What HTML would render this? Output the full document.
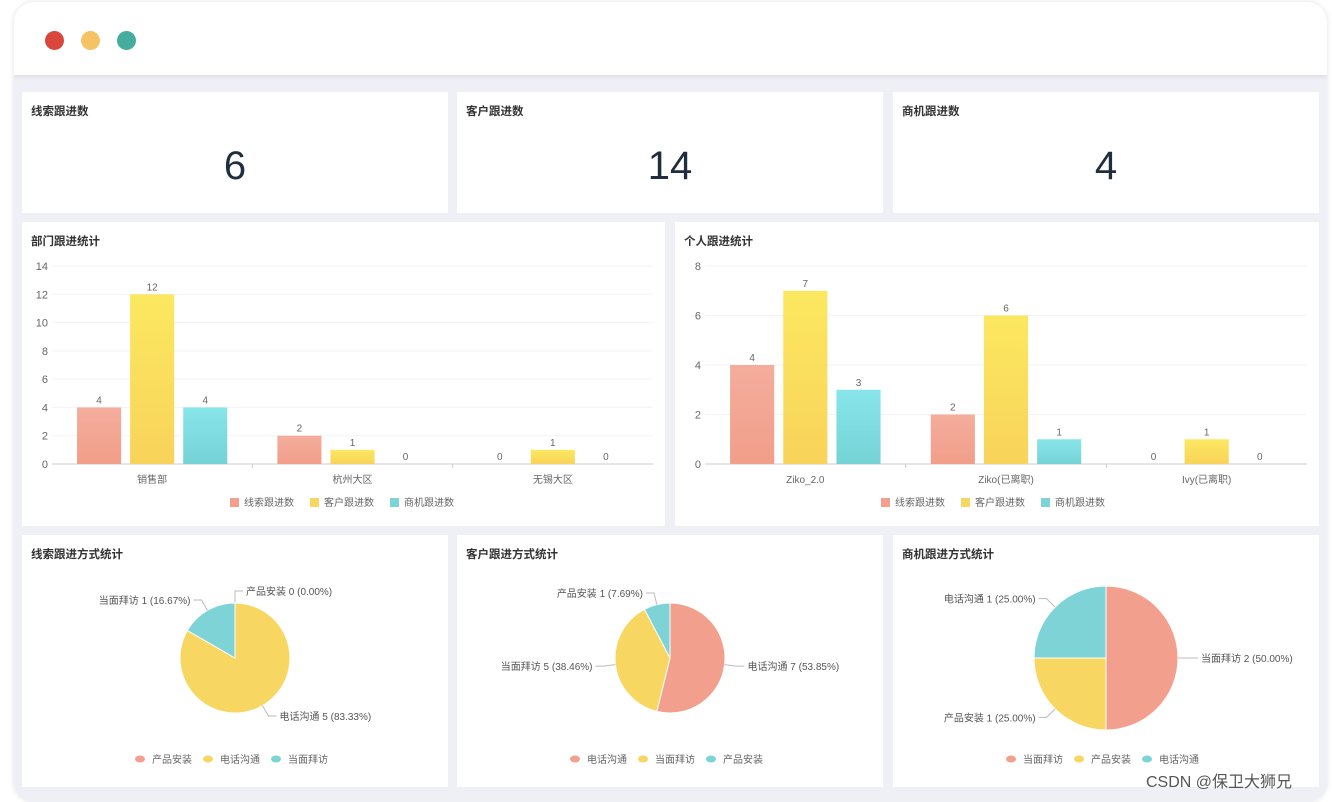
<!DOCTYPE html>
<html><head><meta charset="utf-8">
<style>
*{margin:0;padding:0;box-sizing:border-box}
body{width:1332px;height:798px;background:#fff;font-family:"Liberation Sans","Noto Sans CJK SC",sans-serif;position:relative;overflow:hidden}
#win{position:absolute;left:14px;top:2px;width:1313px;height:800px;border-radius:20px;background:#eff0f5;box-shadow:0 0 6px rgba(0,0,0,.12);overflow:hidden}
#hdr{position:absolute;left:0;top:0;width:100%;height:73px;background:#fff;box-shadow:0 2px 4px rgba(0,0,0,.08)}
.dot{position:absolute;top:29px;width:19px;height:19px;border-radius:50%}
.card{position:absolute;background:#fff}
.ttl{position:absolute;left:9px;top:11px;font-size:11.5px;font-weight:bold;color:#333}
.big{position:absolute;left:0;right:0;top:52px;text-align:center;font-size:40px;color:#1f2d3d}
svg{position:absolute;left:0;top:0}
</style></head><body>
<div id="win">
<div id="hdr">
<div class="dot" style="left:31px;background:#d9473c"></div>
<div class="dot" style="left:67px;background:#f5c264"></div>
<div class="dot" style="left:103px;background:#45ad9e"></div>
</div>
</div>
<div class="card" style="left:22px;top:92px;width:426px;height:121px"><div class="ttl">线索跟进数</div><div class="big">6</div></div>
<div class="card" style="left:457px;top:92px;width:426px;height:121px"><div class="ttl">客户跟进数</div><div class="big">14</div></div>
<div class="card" style="left:893px;top:92px;width:426px;height:121px"><div class="ttl">商机跟进数</div><div class="big">4</div></div>
<div class="card" style="left:22px;top:222px;width:643px;height:304px"><div class="ttl">部门跟进统计</div></div>
<div class="card" style="left:675px;top:222px;width:644px;height:304px"><div class="ttl">个人跟进统计</div></div>
<div class="card" style="left:22px;top:535px;width:426px;height:252px"><div class="ttl">线索跟进方式统计</div></div>
<div class="card" style="left:457px;top:535px;width:426px;height:252px"><div class="ttl">客户跟进方式统计</div></div>
<div class="card" style="left:893px;top:535px;width:426px;height:252px"><div class="ttl">商机跟进方式统计</div></div>
<div style="position:absolute;left:1146px;top:768px;font-size:16px;color:#555">CSDN @保卫大狮兄</div>
<svg id="s" width="1332" height="798">
<defs>
<linearGradient id="g0" x1="0" y1="0" x2="0" y2="1"><stop offset="0" stop-color="#f4ad9c"/><stop offset="1" stop-color="#f19e8a"/></linearGradient>
<linearGradient id="g1" x1="0" y1="0" x2="0" y2="1"><stop offset="0" stop-color="#fce860"/><stop offset="1" stop-color="#f8d35a"/></linearGradient>
<linearGradient id="g2" x1="0" y1="0" x2="0" y2="1"><stop offset="0" stop-color="#88e6ea"/><stop offset="1" stop-color="#75d2d5"/></linearGradient>
</defs>
</svg>
<script>
const seriesNames=['线索跟进数','客户跟进数','商机跟进数'];
const deptCats=['销售部','杭州大区','无锡大区'];
const deptLead=[4,2,0];
const deptCust=[12,1,1];
const deptOpp=[4,0,0];
const deptTicks=[0,2,4,6,8,10,12,14];
const personCats=['Ziko_2.0','Ziko(已离职)','Ivy(已离职)'];
const personLead=[4,2,0];
const personCust=[7,6,1];
const personOpp=[3,1,0];
const personTicks=[0,2,4,6,8];
const pie1Names=['产品安装','电话沟通','当面拜访'];
const pie1Vals=[0,5,1];
const pie2Names=['电话沟通','当面拜访','产品安装'];
const pie2Vals=[7,5,1];
const pie3Names=['当面拜访','产品安装','电话沟通'];
const pie3Vals=[2,1,1];
const pieColors=['#f2a08d','#f8d662','#7dd3d6'];
const S=document.getElementById('s');const NS='http://www.w3.org/2000/svg';
function mk(t,a,txt){const e=document.createElementNS(NS,t);for(const k in a)e.setAttribute(k,a[k]);if(txt!==undefined)e.textContent=txt;S.appendChild(e);return e;}
function bar(x0,x1,y0,y1,cats,series,ticks,leg){
 const max=ticks[ticks.length-1];const ys=v=>y0-(y0-y1)*v/max;
 ticks.forEach(t=>{const l=mk('line',{x1:x0,x2:x1,y1:ys(t),y2:ys(t),stroke:t?'#f3f3f3':'#ccc'});
  const tx=mk('text',{x:x0-4,y:ys(t)+4,'text-anchor':'end','font-size':11,fill:'#666'},t);});
 const gw=(x1-x0)/cats.length,bw=gw*0.22,step=gw*0.265;
 cats.forEach((c,i)=>{const cx=x0+gw*(i+0.5);
  if(i>0){const tk=mk('line',{x1:x0+gw*i,x2:x0+gw*i,y1:y0,y2:y0+4,stroke:'#ccc'});}
  const lb=mk('text',{x:cx,y:y0+19,'text-anchor':'middle','font-size':10,fill:'#666'},c);
  series.forEach((s,j)=>{const bx=cx+(j-1)*step;const v=s[i];
   const r=mk('rect',{x:bx-bw/2,y:ys(v),width:bw,height:y0-ys(v),fill:'url(#g'+j+')'});
   const t=mk('text',{x:bx,y:ys(v)-4,'text-anchor':'middle','font-size':10,fill:'#666'},v);});});
 const lx=leg-115;seriesNames.forEach((n,j)=>{const x=lx+j*80;
  const r=mk('rect',{x:x,y:y0+34,width:9,height:9,fill:pieColors[j]});
  const t=mk('text',{x:x+14,y:y0+42,'font-size':10,fill:'#666'},n);});
}
bar(52,653,464,266,deptCats,[deptLead,deptCust,deptOpp],deptTicks,345);
bar(705,1307,464,266,personCats,[personLead,personCust,personOpp],personTicks,996);
function pie(cx,cy,r,names,vals){
 const tot=vals.reduce((a,b)=>a+b,0);let a=-Math.PI/2;
 vals.forEach((v,i)=>{const da=v/tot*2*Math.PI;const a2=a+da;
  if(v>0){const large=da>Math.PI?1:0;
   const p=mk('path',{d:`M${cx},${cy}L${cx+r*Math.cos(a)},${cy+r*Math.sin(a)}A${r},${r} 0 ${large} 1 ${cx+r*Math.cos(a2)},${cy+r*Math.sin(a2)}Z`,fill:pieColors[i],stroke:'#fff','stroke-width':1});
   }
  const m=a+da/2;const px=cx+r*Math.cos(m),py=cy+r*Math.sin(m);const ex=cx+(r+12)*Math.cos(m),ey=cy+(r+12)*Math.sin(m);
  const right=Math.cos(m)>=-0.001;const hx=ex+(right?8:-8);
  const l=mk('polyline',{points:`${px},${py} ${ex},${ey} ${hx},${ey}`,fill:'none',stroke:'#bbb'});
  const t=mk('text',{x:hx+(right?3:-3),y:ey+4,'text-anchor':right?'start':'end','font-size':10,fill:'#555'},`${names[i]} ${v} (${(v/tot*100).toFixed(2)}%)`);
  a=a2;});
 const lx=cx-95;names.forEach((n,i)=>{const x=lx+i*68;
  const c=mk('ellipse',{cx:x,cy:759,rx:5,ry:3.5,fill:pieColors[i]});
  const t=mk('text',{x:x+12,y:763,'font-size':10,fill:'#666'},n);});
}
pie(235,658,55,pie1Names,pie1Vals);
pie(670,658,55,pie2Names,pie2Vals);
pie(1106,658,72,pie3Names,pie3Vals);
</script>
</body></html>
